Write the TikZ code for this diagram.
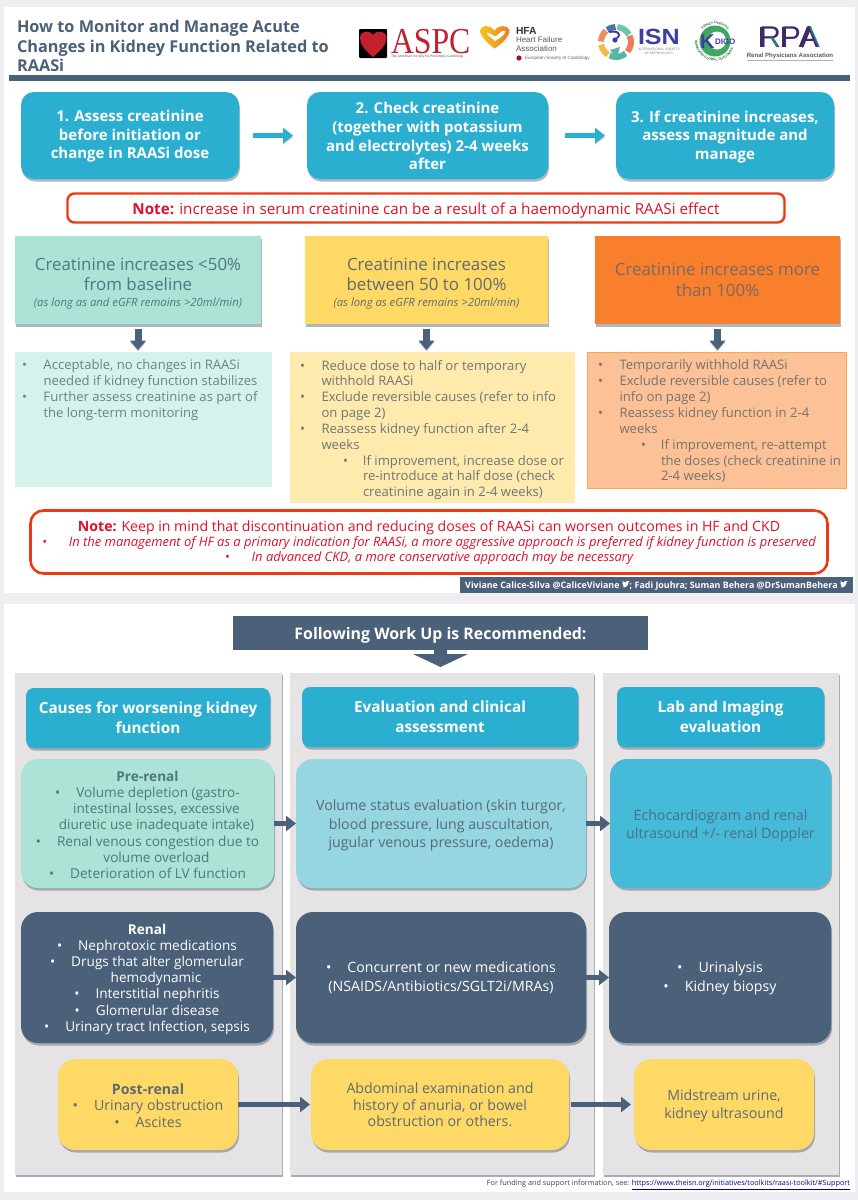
\documentclass[tikz,border=0pt]{standalone}
\usepackage{fontspec}
\setmainfont{Open Sans}
\newfontfamily\lsans{Liberation Sans}
\newfontfamily\lserif{Liberation Serif}
\usetikzlibrary{shadows,arrows.meta,decorations.text}
\definecolor{pagebg}{HTML}{EEEEF2}
\definecolor{slate}{HTML}{4B6079}
\definecolor{stepblue}{HTML}{2BAFD0}
\definecolor{notered}{HTML}{E0102A}
\definecolor{noteedge}{HTML}{EE3A12}
\definecolor{tealA}{HTML}{ABE3D6}
\definecolor{tealB}{HTML}{D6F2EC}
\definecolor{yelA}{HTML}{FFD966}
\definecolor{yelB}{HTML}{FFEAAE}
\definecolor{oraA}{HTML}{F97F2C}
\definecolor{oraB}{HTML}{FCC196}
\definecolor{greycol}{HTML}{E5E3E4}
\definecolor{midblue}{HTML}{95D6E0}
\definecolor{brightblue}{HTML}{46BBD9}
\definecolor{txt}{HTML}{566A7A}
\definecolor{yeltxt}{HTML}{5F6B70}
\definecolor{tealtxt}{HTML}{4F7680}
\definecolor{listteal}{HTML}{6A8288}
\definecolor{listyel}{HTML}{6E7676}
\definecolor{listora}{HTML}{76736F}
\definecolor{orahead}{HTML}{786A66}
\definecolor{bluetxt}{HTML}{487089}
\definecolor{aspcred}{HTML}{C2202C}
\definecolor{rpapurple}{HTML}{3C2A6B}
\definecolor{rpateal}{HTML}{2F7F86}
\definecolor{isnnavy}{HTML}{3B3F9E}
\definecolor{isna}{HTML}{6CC7A8}
\definecolor{isnb}{HTML}{EE7B5E}
\definecolor{isnc}{HTML}{58B5A5}
\definecolor{isnd}{HTML}{F6B84A}
\definecolor{isne}{HTML}{F08A5D}
\definecolor{isnf}{HTML}{4A6FB0}
\definecolor{kgreen}{HTML}{3FA860}
\definecolor{hfagold}{HTML}{F8C81E}
\definecolor{hfaora}{HTML}{E77F2B}
\newcommand{\fsz}[2]{\fontsize{#1pt}{#2pt}\selectfont}
\newcommand{\bl}{\makebox[21.5pt][l]{•}}
\newcommand{\cb}{•\hspace{16pt}}
\newcommand{\ci}{\hspace*{18pt}}
\newcommand{\pd}[1]{\rule{0pt}{\dimexpr 10.8pt+2\dimexpr #1pt\relax\relax}}
\newcommand{\tbird}{\tikz[x=1pt,y=1pt,baseline=0pt]\fill[white] (0,1) .. controls (2,.2) and (4,.6) .. (5.5,2.5) .. controls (6.5,4) and (6.6,5.5) .. (6.6,6) -- (7.8,7) -- (6.6,6.8) .. controls (5.8,8) and (3.6,7.4) .. (3.9,5.6) .. controls (2.4,5.6) and (1.2,6.4) .. (.5,7.4) .. controls (0,6.4) and (.2,5.2) .. (1,4.6) -- (.1,4.8) .. controls (.2,3.8) and (.8,3.2) .. (1.6,3) -- (.6,3) .. controls (.9,2.2) and (1.4,1.9) .. (2.2,1.8) .. controls (1.6,1.2) and (.8,1) .. (0,1) -- cycle;}
\tikzset{
  shad/.style={drop shadow={shadow xshift=1pt,shadow yshift=-2.5pt,opacity=.45,fill=slate}},
  base/.style={inner sep=0pt,outer sep=0pt,align=center},
  stepbox/.style={base,shad,fill=stepblue,rounded corners=13pt,text=white,font=\bfseries\fsz{15}{18.6}},
  notebox/.style={base,fill=white,draw=noteedge,line width=2.4pt,rounded corners=7pt,text=notered},
  headbox/.style={base,shad,text=tealtxt,font=\fsz{16.9}{20}},
  listbox/.style={base},
  listtext/.style={base,align=left,anchor=north west,font=\fsz{13.1}{15.85}},
  colbox/.style={base,fill=greycol,drop shadow={shadow xshift=1pt,shadow yshift=-1.5pt,opacity=.5,fill=slate}},
  colhead/.style={base,shad,fill=stepblue,rounded corners=8pt,text=white,font=\bfseries\fsz{15.3}{20}},
  rowbox/.style={base,shad,rounded corners=17pt,font=\fsz{13.6}{16.2},text=txt},
  flowarrow/.style={line width=5.5pt,-{Triangle[length=10pt,width=15pt]}},
  downarrow/.style={line width=7pt,slate,-{Triangle[length=9.5pt,width=15.5pt]}},
  logotxt/.style={base,anchor=west}
}
\begin{document}
\begin{tikzpicture}[x=1pt,y=-1pt]
\useasboundingbox (0,0) rectangle (858,1200);
\fill[pagebg] (0,0) rectangle (858,1200);
% panels
\node[base,fill=white,minimum width=851pt,minimum height=586pt] (panelA) at (429,300) {};
\node[base,fill=white,minimum width=851pt,minimum height=588pt] (panelB) at (429,898) {};
% title
\node[base,align=left,anchor=north west,text=slate,font=\bfseries\fsz{16.3}{19.8}] (title) at (17,20)
 {How to Monitor and Manage Acute\\Changes in Kidney Function Related to\\RAASi};
\node[base,fill=slate,minimum width=841pt,minimum height=6pt] (rule) at (429.5,78) {};
% ASPC logo
\node[base,fill=black,rounded corners=1pt,minimum width=28pt,minimum height=29pt] (aspcsq) at (373,43.5) {};
\fill[aspcred] (373,57) .. controls (366,51) and (360,45) .. (360,38) .. controls (360,31) and (369,29) .. (373,35) .. controls (377,29) and (386.5,31) .. (386.5,38) .. controls (386.5,45) and (380,51) .. (373,57) -- cycle;
\node[base,anchor=base west,text=aspcred,font=\lserif\fsz{36.5}{38}] (aspc) at (391,53) {\scalebox{.87}[1]{ASPC}};
\node[logotxt,text=gray!70!black,font=\lsans\fsz{3.4}{4}] (aspcsub) at (391,56.5) {The American Society for Preventive Cardiology};
% HFA logo
\shade[left color=hfagold,right color=hfaora] (494.5,48.5) .. controls (488,44) and (479,35) .. (480,30) .. controls (481,25) and (490,24) .. (494.5,31) .. controls (498,24) and (508,25) .. (509.5,30) .. controls (510,36) and (502,44) .. (494.5,48.5) -- cycle;
\fill[white] (495,41) .. controls (492,38) and (487,35) .. (487,33) .. controls (488,32) and (492,35) .. (495,36.5) .. controls (499,35) and (501,30) .. (505,31) .. controls (506,34) and (500,38) .. (495,41) -- cycle;
\node[logotxt,text=black!80,font=\lsans\bfseries\fsz{10.3}{10}] (hfa) at (516,31) {HFA};
\node[logotxt,align=left,text=black!65,font=\lsans\fsz{8}{8.5}] (hfasub) at (516,44) {Heart Failure\\Association};
\fill[aspcred!80!black] (519,58) circle (2.6pt);
\node[logotxt,text=black!60,font=\lsans\fsz{4.6}{5}] (esc) at (525,58) {European Society of Cardiology};
% ISN logo
\foreach \a/\b/\c in {30/85/isna,-40/25/isnb,-115/-50/isnc,-170/-122/isnd,132/178/isne,92/126/isnf}
  \draw[line width=6pt,color=\c] (616,42) ++(\a:15pt) arc[start angle=\a,end angle=\b,radius=15pt];
\draw[line width=2pt,isnnavy,line cap=round] (610,32) .. controls (617,30) and (622,34) .. (617,38);
\fill[isnnavy] (615,40) circle (2.6pt);
\fill[isnc] (610,50) -- (620,47) -- (617,58) -- cycle;
\node[base,anchor=base west,text=isnnavy,font=\lsans\bfseries\fsz{22}{22}] (isn) at (638,44) {\scalebox{1.14}[1]{ISN}};
\node[base,text=gray,font=\lsans\fsz{3.3}{3.6}] (isnsub) at (659,51.5) {INTERNATIONAL SOCIETY\\OF NEPHROLOGY};
% KDIGO logo
\node[base,circle,fill=kgreen,minimum size=31pt] (kglobe) at (715,41) {};
\node[base,circle,fill=white,minimum size=18pt] (kdisc) at (717,40.5) {};
\path[decorate,decoration={text along path,text color=kgreen!70!black,text align=center,text={|\lsans\bfseries\fsz{3.4}{4}|KIDNEY DISEASE}}] (715,41) ++(150:17pt) arc[start angle=150,end angle=30,radius=17pt];
\path[decorate,decoration={text along path,text color=kgreen!70!black,text align=center,text={|\lsans\bfseries\fsz{3.4}{4}|IMPROVING GLOBAL OUTCOMES}}] (715,41) ++(165:20pt) arc[start angle=165,end angle=350,radius=20pt];
\node[base,text=isnnavy,anchor=base west,font=\lsans\bfseries\fsz{20}{20}] (kk) at (700,48) {K};
\node[base,text=isnnavy,anchor=base west,font=\lsans\bfseries\fsz{8}{9}] (kdigo) at (715,44) {DIGO};
% RPA logo
\node[base,anchor=base,text=rpapurple,font=\lsans\fsz{30}{30}] (rpa) at (789,47) {RPA};
\draw[rpapurple,line width=4.5pt] (762,26.5) -- (762,47);
\draw[rpapurple,line width=4.5pt] (784,26.5) -- (784,47);
\draw[rpapurple,line width=3.6pt] (801.5,47) -- (810,26.5);
\draw[rpateal,line width=1.6pt] (771,36) -- (777.5,47);
\draw[rpateal,line width=1.6pt] (810,26.5) -- (819,47);
\node[base,text=black!65,font=\lsans\bfseries\fsz{6.1}{7}] (rpasub) at (790,56) {Renal Physicians Association};
\draw[gray!60,line width=.6pt] (rpasub.south west) ++(0,1.8) -- ++(86,0);
% steps
\node[stepbox,minimum width=218pt,minimum height=87pt] (s1) at (130,135.5) {\pd{1.2}1. Assess creatinine\\before initiation or\\change in RAASi dose};
\node[stepbox,minimum width=241pt,minimum height=87pt] (s2) at (427.5,135.5) {\pd{1}2. Check creatinine\\(together with potassium\\and electrolytes) 2-4 weeks\\after};
\node[stepbox,minimum width=218pt,minimum height=87pt] (s3) at (725,135.5) {\pd{1.5}3. If creatinine increases,\\assess magnitude and\\manage};
\draw[flowarrow,stepblue,shorten <=14pt,shorten >=14pt,preaction={draw=slate,opacity=.35,transform canvas={yshift=-1.5pt}}] (s1) -- (s2);
\draw[flowarrow,stepblue,shorten <=17pt,shorten >=11pt,preaction={draw=slate,opacity=.35,transform canvas={yshift=-1.5pt}}] (s2) -- (s3);
% note 1
\node[notebox,minimum width=717pt,minimum height=29pt,font=\fsz{15.2}{17},text height=16.5pt,text depth=3.5pt] (note1) at (426,208) {\textbf{Note:} increase in serum creatinine can be a result of a haemodynamic RAASi effect};
% three headers
\node[headbox,fill=tealA,minimum width=246pt,minimum height=88pt] (h1) at (138,280) {\pd{4}Creatinine increases <50\%\\from baseline\\[-4pt]\fsz{11.3}{17.5}\itshape (as long as and eGFR remains >20ml/min)};
\node[headbox,fill=yelA,text=yeltxt,minimum width=243pt,minimum height=88pt] (h2) at (426.5,280) {\pd{4}Creatinine increases\\between 50 to 100\%\\[-4pt]\fsz{11.3}{17.5}\itshape (as long as eGFR remains >20ml/min)};
\node[headbox,fill=oraA,minimum width=245pt,minimum height=88pt,font=\fsz{16.9}{20.5},text=orahead] (h3) at (717.5,280) {Creatinine increases more\\than 100\%};
% lists
\node[listbox,fill=tealB,minimum width=257pt,minimum height=135pt] (l1) at (143.5,419.5) {};
\node[listbox,fill=yelB,minimum width=285pt,minimum height=151pt] (l2) at (432.5,427.5) {};
\node[listbox,draw=orange!70,line width=.5pt,fill=oraB,minimum width=259pt,minimum height=136pt] (l3) at (716.5,420) {};
\draw[downarrow,shorten <=5pt,shorten >=2pt,preaction={draw=slate,opacity=.3,transform canvas={yshift=-1.5pt}}] (h1) -- (h1 |- l1.north);
\draw[downarrow,shorten <=5pt,shorten >=2pt,preaction={draw=slate,opacity=.3,transform canvas={yshift=-1.5pt}}] (h2) -- (h2 |- l2.north);
\draw[downarrow,shorten <=5pt,shorten >=2pt,preaction={draw=slate,opacity=.3,transform canvas={yshift=-1.5pt}}] (h3) -- (h3 |- l3.north);
\node[listtext,text=listteal] (t1) at (22,360) {\bl Acceptable, no changes in RAASi\\\hspace*{21.5pt}needed if kidney function stabilizes\\\bl Further assess creatinine as part of\\\hspace*{21.5pt}the long-term monitoring};
\node[listtext,text=listyel] (t2) at (300,360) {\bl Reduce dose to half or temporary\\\hspace*{21.5pt}withhold RAASi\\\bl Exclude reversible causes (refer to info\\\hspace*{21.5pt}on page 2)\\\bl Reassess kidney function after 2-4\\\hspace*{21.5pt}weeks\\\hspace*{43pt}\makebox[20pt][l]{•}If improvement, increase dose or\\\hspace*{63pt}re-introduce at half dose (check\\\hspace*{63pt}creatinine again in 2-4 weeks)};
\node[listtext,text=listora] (t3) at (598,360) {\bl Temporarily withhold RAASi\\\bl Exclude reversible causes (refer to\\\hspace*{21.5pt}info on page 2)\\\bl Reassess kidney function in 2-4\\\hspace*{21.5pt}weeks\\\hspace*{43pt}\makebox[20pt][l]{•}If improvement, re-attempt\\\hspace*{63pt}the doses (check creatinine in\\\hspace*{63pt}2-4 weeks)};
% note 2
\node[notebox,line width=2.6pt,rounded corners=13pt,minimum width=797pt,minimum height=63pt] (note2) at (429,542) {\pd{1}\fsz{14.1}{16}\textbf{Note:} Keep in mind that discontinuation and reducing doses of RAASi can worsen outcomes in HF and CKD\\[.5pt]\fsz{12.95}{16.5}\itshape •\hspace{22pt}In the management of HF as a primary indication for RAASi, a more aggressive approach is preferred if kidney function is preserved\\[1.5pt]\fsz{12.95}{16.5}\itshape •\hspace{22pt}In advanced CKD, a more conservative approach may be necessary};
% credit
\node[base,fill=slate,text=white,minimum width=393pt,minimum height=16pt,font=\bfseries\fsz{8.9}{10}] (credit) at (656.5,585) {Viviane Calice-Silva @CaliceViviane \tbird; Fadi Jouhra; Suman Behera @DrSumanBehera \tbird};
% following
\node[base,fill=slate,text=white,minimum width=415pt,minimum height=34pt,font=\bfseries\fsz{15.9}{18},text height=17pt,text depth=4pt] (follow) at (440.5,633) {Following Work Up is Recommended:};
\coordinate (followtip) at (440.5,667);
\fill[slate] (follow.south -| 434,650) -- (447,650) -- (447,654) -- (468,654) -- (followtip) -- (413,654) -- (434,654) -- cycle;
% columns
\node[colbox,minimum width=267pt,minimum height=502pt] (c1) at (148.5,924) {};
\node[colbox,minimum width=304pt,minimum height=502pt] (c2) at (442,924) {};
\node[colbox,minimum width=236pt,minimum height=502pt] (c3) at (721,924) {};
\node[colhead,minimum width=244pt,minimum height=60pt] (ch1) at (148,718) {Causes for worsening kidney\\function};
\node[colhead,minimum width=276pt,minimum height=60pt] (ch2) at (440,717) {Evaluation and clinical\\assessment};
\node[colhead,minimum width=207pt,minimum height=60pt] (ch3) at (720.5,717) {Lab and Imaging\\evaluation};
% row 1
\node[rowbox,fill=tealA,text=tealtxt,minimum width=253pt,minimum height=129pt] (a1) at (147.5,823.5) {\pd{1}\textbf{Pre-renal}\\\cb Volume depletion (gastro-\\\ci intestinal losses, excessive\\\ci diuretic use inadequate intake)\\\cb Renal venous congestion due to\\\ci volume overload\\\cb Deterioration of LV function};
\node[rowbox,fill=midblue,minimum width=290pt,minimum height=129pt,font=\fsz{14.2}{18.5}] (a2) at (441,823.5) {\pd{2}Volume status evaluation (skin turgor,\\blood pressure, lung auscultation,\\jugular venous pressure, oedema)};
\node[rowbox,fill=brightblue,text=bluetxt,minimum width=221pt,minimum height=129pt,font=\fsz{14.2}{18.5}] (a3) at (720.5,823.5) {\pd{2.5}Echocardiogram and renal\\ultrasound +/- renal Doppler};
\draw[flowarrow,slate] (a1) -- (a2);
\draw[flowarrow,slate] (a2) -- (a3);
% row 2
\node[rowbox,fill=slate,text=white,minimum width=252pt,minimum height=131pt] (b1) at (147,977.5) {\pd{1.5}\textbf{Renal}\\\cb Nephrotoxic medications\\\cb Drugs that alter glomerular\\\ci hemodynamic\\\cb Interstitial nephritis\\\cb Glomerular disease\\\cb Urinary tract Infection, sepsis};
\node[rowbox,fill=slate,text=white,minimum width=290pt,minimum height=131pt,font=\fsz{14.2}{18.5}] (b2) at (441,977.5) {\cb Concurrent or new medications\\(NSAIDS/Antibiotics/SGLT2i/MRAs)};
\node[rowbox,fill=slate,text=white,minimum width=222pt,minimum height=131pt,font=\fsz{14.2}{18.5}] (b3) at (720,977.5) {\pd{1}\cb Urinalysis\\\cb Kidney biopsy};
\draw[flowarrow,slate] (b1) -- (b2);
\draw[flowarrow,slate] (b2) -- (b3);
% row 3
\node[rowbox,fill=yelA,text=yeltxt,minimum width=180pt,minimum height=91pt,font=\fsz{14.2}{16.5}] (d1) at (148,1104.5) {\pd{.7}\textbf{Post-renal}\\\cb Urinary obstruction\\\cb Ascites};
\node[rowbox,fill=yelA,text=yeltxt,minimum width=258pt,minimum height=91pt,font=\fsz{14.2}{16.5}] (d2) at (440,1104.5) {\pd{.5}Abdominal examination and\\history of anuria, or bowel\\obstruction or others.};
\node[rowbox,fill=yelA,text=yeltxt,minimum width=180pt,minimum height=91pt,font=\fsz{14.2}{18}] (d3) at (724,1104.5) {\pd{1}Midstream urine,\\kidney ultrasound};
\draw[flowarrow,slate,shorten >=1pt] (d1) -- (d2);
\draw[flowarrow,slate,shorten <=2pt,shorten >=3pt] (d2) -- (d3);
% funding
\node[base,anchor=east,text=black!75,font=\fsz{7.3}{9}] (fund) at (850,1185) {For funding and support information, see: \textcolor{blue!60!black}{\underline{https://www.theisn.org/initiatives/toolkits/raasi-toolkit/\#Support}}};
\end{tikzpicture}
\end{document}
